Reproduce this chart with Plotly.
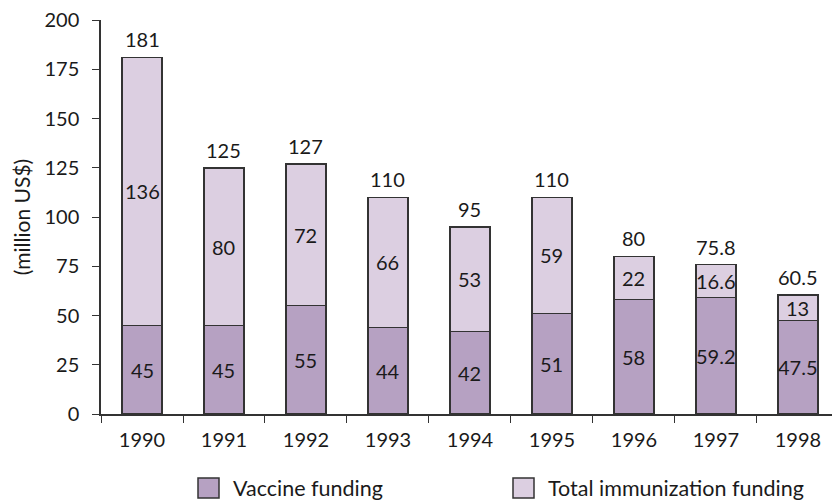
import plotly.graph_objects as go

years = ["1990", "1991", "1992", "1993", "1994", "1995", "1996", "1997", "1998"]
vaccine = [45, 45, 55, 44, 42, 51, 58, 59.2, 47.5]
other_immunization = [136, 80, 72, 66, 53, 59, 22, 16.6, 13]
totals = [181, 125, 127, 110, 95, 110, 80, 75.8, 60.5]
y_ticks = [0, 25, 50, 75, 100, 125, 150, 175, 200]
legend_labels = ["Vaccine funding", "Total immunization funding"]

FONT = "Lato"
DARK = "#b6a1c2"
LIGHT = "#dccfe1"
EDGE = "#333333"
TXT = "#1a1a1a"
NUM_FS = 20
TXT_FS = 21.5

# plot area in pixels
L, T, W, H = 101, 20, 731, 394


def fmt(v):
    return f"{v:g}"


fig = go.Figure()
fig.add_trace(go.Bar(
    x=years, y=vaccine, name=legend_labels[0],
    marker=dict(color=DARK, line=dict(color=EDGE, width=1.5)),
    width=0.49, showlegend=False,
))
fig.add_trace(go.Bar(
    x=years, y=other_immunization, name=legend_labels[1],
    marker=dict(color=LIGHT, line=dict(color=EDGE, width=1.5)),
    width=0.49, showlegend=False,
))

# Segment labels centred in each stacked piece, totals above the bars
for i, (v, o, t) in enumerate(zip(vaccine, other_immunization, totals)):
    fig.add_annotation(x=i, y=v / 2, text=fmt(v), showarrow=False,
                       font=dict(family=FONT, size=NUM_FS, color=TXT))
    fig.add_annotation(x=i, y=v + o / 2, text=fmt(o), showarrow=False,
                       font=dict(family=FONT, size=NUM_FS, color=TXT))
    fig.add_annotation(x=i, y=t, text=fmt(t), showarrow=False,
                       yanchor="bottom", yshift=4,
                       font=dict(family=FONT, size=NUM_FS, color=TXT))

# Legend drawn as swatches with text beside them
swatches = [(198, 219, DARK), (513, 534, LIGHT)]
for (x0, x1, col), label in zip(swatches, legend_labels):
    fig.add_shape(type="rect", xref="paper", yref="paper",
                  x0=(x0 - L) / W, x1=(x1 - L) / W,
                  y0=-(478 - T - H) / H, y1=-(498 - T - H) / H,
                  fillcolor=col, line=dict(color=EDGE, width=1.5))
    fig.add_annotation(xref="paper", yref="paper",
                       x=(x1 + 12 - L) / W, y=-(488 - T - H) / H,
                       xanchor="left", yanchor="middle", showarrow=False,
                       text=label, font=dict(family=FONT, size=TXT_FS, color=TXT))

fig.update_layout(
    barmode="stack",
    width=832, height=501,
    margin=dict(l=L, r=832 - L - W, t=T, b=501 - T - H),
    paper_bgcolor="white", plot_bgcolor="white",
    font=dict(family=FONT, size=NUM_FS, color=TXT),
    showlegend=False,
    yaxis=dict(
        range=[0, 200], tickvals=y_ticks, ticks="outside", ticklen=7,
        tickcolor=EDGE, showline=True, linecolor=EDGE, linewidth=1.5,
        showgrid=False, zeroline=False, ticklabelstandoff=9,
        title=dict(text="(million US$)", standoff=8,
                   font=dict(family=FONT, size=21)),
    ),
    xaxis=dict(
        type="category",
        range=[-0.5, 8.415], showline=True, linecolor=EDGE, linewidth=1.5,
        ticks="outside", ticklen=7, tickcolor=EDGE, tickson="boundaries",
        showgrid=False, ticklabelstandoff=7,
    ),
)

fig.write_html("out.html")
